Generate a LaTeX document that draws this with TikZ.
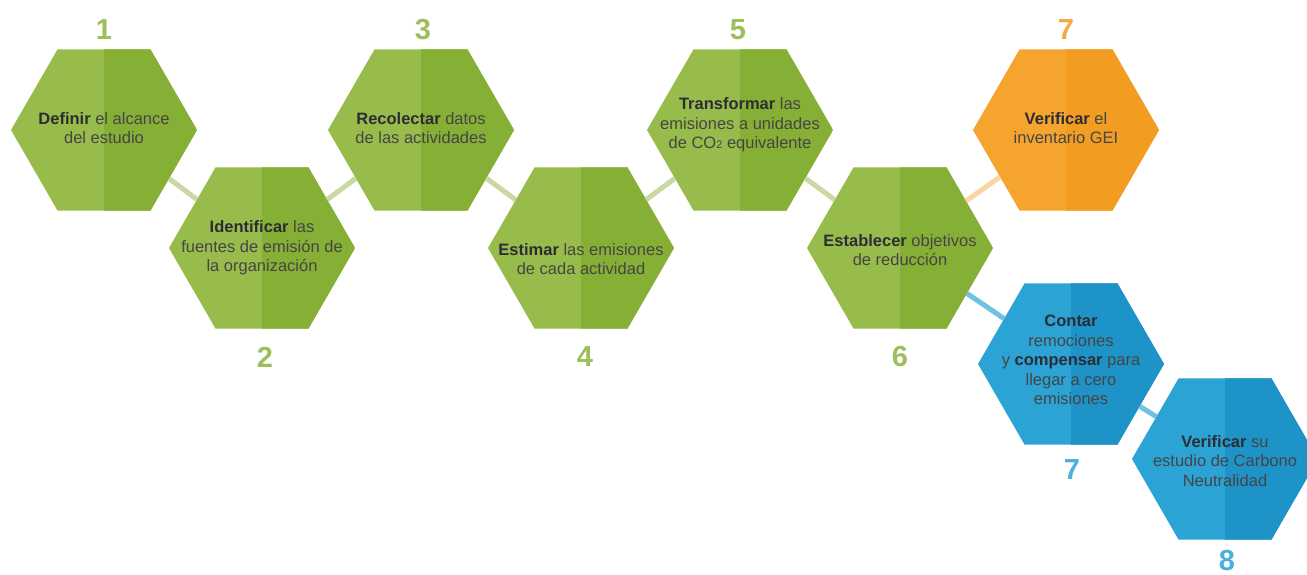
\documentclass[tikz,border=0pt]{standalone}
\usepackage{fontspec}
\setmainfont{Liberation Sans}
\usetikzlibrary{shapes.geometric}
\definecolor{gL}{HTML}{98BC4B}
\definecolor{gR}{HTML}{86AF36}
\definecolor{oL}{HTML}{F5A42E}
\definecolor{oR}{HTML}{F29D22}
\definecolor{bL}{HTML}{2CA3D5}
\definecolor{bR}{HTML}{1E93C8}
\definecolor{gNum}{HTML}{9DBE5B}
\definecolor{oNum}{HTML}{F5A845}
\definecolor{bNum}{HTML}{4CAFDB}
\definecolor{gLine}{HTML}{C9D9A3}
\definecolor{oLine}{HTML}{FBD6A2}
\definecolor{bLine}{HTML}{6FC2E2}
\definecolor{txt}{HTML}{454545}
\definecolor{txtb}{HTML}{2C2C34}
\newcommand{\bw}[1]{{\bfseries\color{txtb}#1}}
\tikzset{
  hexa/.style={regular polygon, regular polygon sides=6, minimum size=186pt, inner sep=0pt, outer sep=0pt, draw=none},
  greenhex/.style={hexa, fill=gL, path picture={\fill[gR] (path picture bounding box.north) rectangle (path picture bounding box.south east);}},
  orangehex/.style={hexa, fill=oL, path picture={\fill[oR] (path picture bounding box.north) rectangle (path picture bounding box.south east);}},
  bluehex/.style={hexa, fill=bL, path picture={\fill[bR] (path picture bounding box.north) rectangle (path picture bounding box.south east);}},
  hextext/.style={align=center, text=txt, font=\fontsize{16.5}{19.5}\selectfont, inner sep=0pt},
  num/.style={font=\fontsize{29}{29}\selectfont\bfseries, inner sep=0pt},
  conn/.style={line width=5pt}
}
\begin{document}
\begin{tikzpicture}[x=1pt, y=-1pt]
\useasboundingbox (0,0) rectangle (1307,575);
\fill[white] (0,0) rectangle (1307,575);
% hexagons
\node[greenhex] (h1) at (104,130) {};
\node[greenhex] (h2) at (262,248) {};
\node[greenhex] (h3) at (421,130) {};
\node[greenhex] (h4) at (581,248) {};
\node[greenhex] (h5) at (740,130) {};
\node[greenhex] (h6) at (900,248) {};
\node[orangehex] (h7o) at (1066,130) {};
\node[bluehex] (h7b) at (1071,364) {};
\node[bluehex] (h8) at (1225,459) {};
% connectors
\draw[conn, gLine] (h1) -- (h2);
\draw[conn, gLine] (h2) -- (h3);
\draw[conn, gLine] (h3) -- (h4);
\draw[conn, gLine] (h4) -- (h5);
\draw[conn, gLine] (h5) -- (h6);
\draw[conn, oLine] (h6) -- (h7o);
\draw[conn, bLine] (h6) -- (h7b);
\draw[conn, bLine] (h7b) -- (h8);
% texts
\node[hextext] (t1) at (104,128) {\bw{Definir} el alcance\\del estudio};
\node[hextext] (t2) at (262,248) {\bw{Identificar} las\\fuentes de emisión de\\la organización};
\node[hextext] (t3) at (421,128) {\bw{Recolectar} datos\\de las actividades};
\node[hextext] (t4) at (581,259) {\bw{Estimar} las emisiones\\de cada actividad};
\node[hextext] (t5) at (740,125) {\bw{Transformar} las\\emisiones a unidades\\de CO{\fontsize{11}{11}\selectfont 2} equivalente};
\node[hextext] (t6) at (900,250) {\bw{Establecer} objetivos\\de reducción};
\node[hextext] (t7o) at (1066,128) {\bw{Verificar} el\\inventario GEI};
\node[hextext] (t7b) at (1071,360) {\bw{Contar}\\remociones\\y \bw{compensar} para\\llegar a cero\\emisiones};
\node[hextext] (t8) at (1225,461) {\bw{Verificar} su\\estudio de Carbono\\Neutralidad};
% numbers
\node[num, gNum] (n1) at (104,30) {1};
\node[num, gNum] (n2) at (265,357) {2};
\node[num, gNum] (n3) at (423,30) {3};
\node[num, gNum] (n4) at (585,357) {4};
\node[num, gNum] (n5) at (738,30) {5};
\node[num, gNum] (n6) at (900,357) {6};
\node[num, oNum] (n7o) at (1066,30) {7};
\node[num, bNum] (n7b) at (1072,470) {7};
\node[num, bNum] (n8) at (1227,561) {8};
\end{tikzpicture}
\end{document}
